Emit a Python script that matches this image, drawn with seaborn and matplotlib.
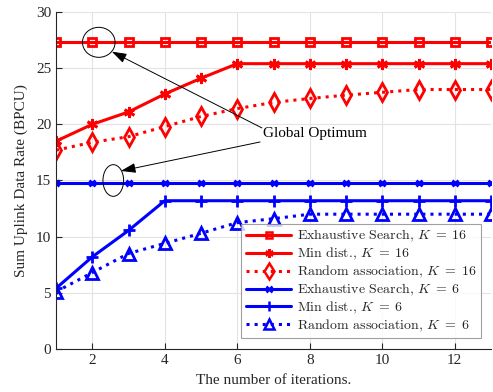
import numpy as np
import pandas as pd
import matplotlib
matplotlib.use('Agg')
import matplotlib.pyplot as plt
import seaborn as sns
from matplotlib.patches import Ellipse

# values
iterations = list(range(1, 14))
exh_16 = [27.3] * 13
mind_16 = [18.5, 20.0, 21.1, 22.7, 24.1, 25.4, 25.4, 25.4, 25.4, 25.4, 25.4, 25.4, 25.4]
rand_16 = [17.7, 18.4, 18.9, 19.8, 20.7, 21.4, 21.95, 22.3, 22.6, 22.85, 23.1, 23.1, 23.1]
exh_6 = [14.75] * 13
mind_6 = [5.4, 8.2, 10.55, 13.2, 13.2, 13.2, 13.2, 13.2, 13.2, 13.2, 13.2, 13.2, 13.2]
rand_6 = [5.1, 6.8, 8.5, 9.4, 10.3, 11.25, 11.6, 12.0, 12.0, 12.0, 12.0, 12.0, 12.0]

labels = [r'Exhaustive Search, $K\;=\;16$',
          r'Min dist., $K\;=\;16$',
          r'Random association, $K\;=\;16$',
          r'Exhaustive Search, $K\;=\;6$',
          r'Min dist., $K\;=\;6$',
          r'Random association, $K\;=\;6$']

sns.set_style('whitegrid')
plt.rcParams['font.family'] = ['Liberation Serif', 'DejaVu Serif']
plt.rcParams['mathtext.fontset'] = 'cm'

fig = plt.figure(figsize=(4.93, 3.92), dpi=100)
ax = fig.add_axes([0.1136, 0.1097, 0.8824, 0.8597])

red = '#ff0000'
blue = '#0000ff'
# (values, colour, linestyle, marker, size, face, legend size)
styles = [
    (exh_16, red, '-', 's', 5.5, 'none', 4),
    (mind_16, red, '-', (6, 2, 0), 8, red, 6),
    (rand_16, red, ':', 'd', 9, 'none', 8),
    (exh_6, blue, '-', 'x', 5, blue, 4),
    (mind_6, blue, '-', '+', 8, blue, 7),
    (rand_6, blue, ':', '^', 8, 'none', 7),
]

for (vals, col, ls, mk, ms, mfc, _), lab in zip(styles, labels):
    sns.lineplot(x=iterations, y=vals, ax=ax, color=col, linestyle=ls,
                 linewidth=2.2, marker=mk, markersize=ms,
                 markerfacecolor=mfc, markeredgecolor=col,
                 markeredgewidth=2, label=lab)

ax.set_xlim(1, 13)
ax.set_ylim(0, 30)
ax.set_xticks([2, 4, 6, 8, 10, 12])
ax.set_yticks([0, 5, 10, 15, 20, 25, 30])
ax.tick_params(direction='in', length=4, labelsize=11, colors='#262626',
               left=True, bottom=True)
ax.grid(True, color='#e3e3e3', linewidth=0.8)
for s in ['top', 'right']:
    ax.spines[s].set_visible(False)
for s in ['left', 'bottom']:
    ax.spines[s].set_color('#262626')
    ax.spines[s].set_linewidth(0.8)

ax.set_xlabel('The number of iterations.', fontsize=11, color='#262626', labelpad=5)
ax.set_ylabel('Sum Uplink Data Rate (BPCU)', fontsize=11, color='#262626', labelpad=6)

# global optimum circles and arrows
ax.add_patch(Ellipse((2.18, 27.3), 0.90, 2.67, fill=False, edgecolor='black',
                     linewidth=0.7, zorder=5))
ax.add_patch(Ellipse((2.58, 15.0), 0.57, 2.82, fill=False, edgecolor='black',
                     linewidth=0.7, zorder=5))
arrow = dict(arrowstyle='-|>,head_length=0.9,head_width=0.3', color='black',
             linewidth=0.7, shrinkA=0, shrinkB=0)
ax.annotate('', xy=(2.54, 26.47), xytext=(6.68, 19.68), arrowprops=arrow, zorder=6)
ax.annotate('', xy=(2.79, 15.85), xytext=(6.63, 18.43), arrowprops=arrow, zorder=6)
ax.text(6.70, 19.15, 'Global Optimum', fontsize=11, va='center', ha='left',
        color='black', zorder=7)

leg = ax.legend(loc='lower right', bbox_to_anchor=(0.976, 0.033),
                prop={'family': 'cmr10', 'size': 10},
                frameon=True, fancybox=False, edgecolor='#888888',
                handlelength=3.3, borderpad=0.3, labelspacing=0.12,
                handletextpad=0.4, borderaxespad=0)
leg.get_frame().set_linewidth(0.8)
leg.set_zorder(8)
for h, st in zip(leg.legend_handles, styles):
    h.set_markersize(st[6])
    h.set_markeredgewidth(1.8)

fig.savefig('out.png', dpi=100)
